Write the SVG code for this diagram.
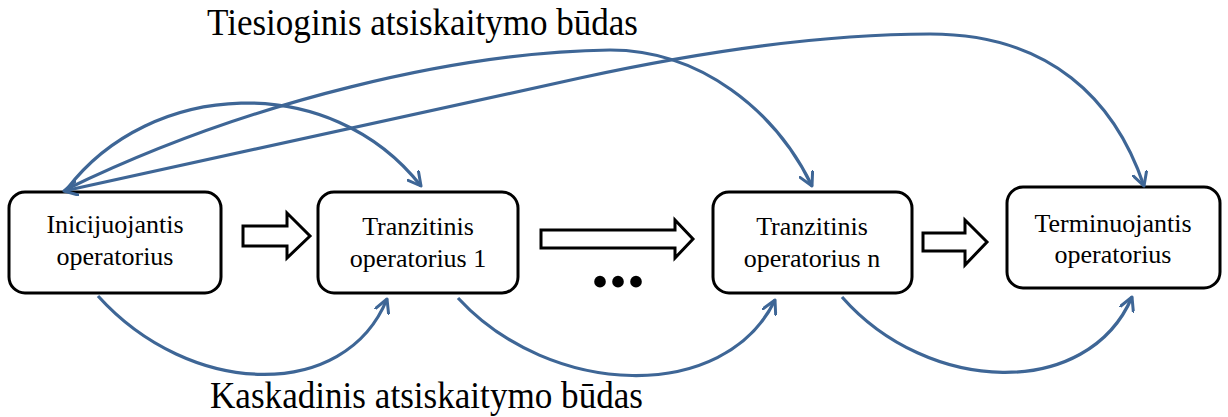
<svg xmlns="http://www.w3.org/2000/svg" width="1228" height="417" viewBox="0 0 1228 417">
<style>
.box{fill:#fff;stroke:#000;stroke-width:3}
.blk{fill:#fff;stroke:#000;stroke-width:3;stroke-linejoin:miter}
.lbl{font-family:"Liberation Serif","Times New Roman",serif;font-size:26px;fill:#000;text-anchor:middle}
.ttl{font-family:"Liberation Serif","Times New Roman",serif;font-size:37px;fill:#000}
.con{fill:none;stroke:#3E6696;stroke-width:3.2}
</style>
<defs>
<marker id="ah" viewBox="0 0 16 16" refX="14" refY="8" markerWidth="16" markerHeight="16" markerUnits="userSpaceOnUse" orient="auto-start-reverse">
<path d="M1,1 L14,8 L1,15" fill="none" stroke="#3E6696" stroke-width="3" stroke-linecap="round" stroke-linejoin="round"/>
</marker>
</defs>
<text class="ttl" x="207" y="35" textLength="431" lengthAdjust="spacingAndGlyphs">Tiesioginis atsiskaitymo būdas</text>
<text class="ttl" x="210" y="408" textLength="433" lengthAdjust="spacingAndGlyphs">Kaskadinis atsiskaitymo būdas</text>
<g id="n1"><rect class="box" x="9" y="192" width="212" height="101" rx="16"/><text class="lbl" x="115" y="233">Inicijuojantis</text><text class="lbl" x="115" y="265">operatorius</text></g>
<g id="n2"><rect class="box" x="318" y="192" width="200" height="101" rx="16"/><text class="lbl" x="418" y="235">Tranzitinis</text><text class="lbl" x="418" y="267">operatorius 1</text></g>
<g id="n3"><rect class="box" x="713" y="192" width="199" height="101" rx="16"/><text class="lbl" x="812" y="235">Tranzitinis</text><text class="lbl" x="812" y="267">operatorius n</text></g>
<g id="n4"><rect class="box" x="1007" y="187" width="213" height="101" rx="16"/><text class="lbl" x="1113" y="232">Terminuojantis</text><text class="lbl" x="1113" y="263">operatorius</text></g>
<g id="flow">
<path class="blk" d="M243,226 L287,226 L287,213 L310,236 L287,258 L287,246 L243,246 Z"/>
<path class="blk" d="M541,230 L675,230 L675,220 L693,239 L675,258 L675,248 L541,248 Z"/>
<path class="blk" d="M923,233 L965,233 L965,220 L987,242 L965,265 L965,251 L923,251 Z"/>
<text x="591" y="287" font-family="Liberation Serif, serif" font-weight="bold" font-size="72" fill="#000">...</text>
</g>
<g id="connectors">
<path class="con" d="M67,189 C150,80 330,70 421,186" marker-end="url(#ah)"/>
<path class="con" d="M67,189 C250,100 460,52 610,50 C700,50 775,110 812,186" marker-end="url(#ah)"/>
<path class="con" d="M64,191 L580,78 C700,52 820,34 930,34 C1050,34 1115,100 1144,186" marker-start="url(#ah)" marker-end="url(#ah)"/>
<path class="con" d="M98,296 C190,398 345,402 387,299" marker-end="url(#ah)"/>
<path class="con" d="M458,298 C550,398 725,404 775,300" marker-end="url(#ah)"/>
<path class="con" d="M842,297 C928,395 1088,400 1132,297" marker-end="url(#ah)"/>
</g>
</svg>
